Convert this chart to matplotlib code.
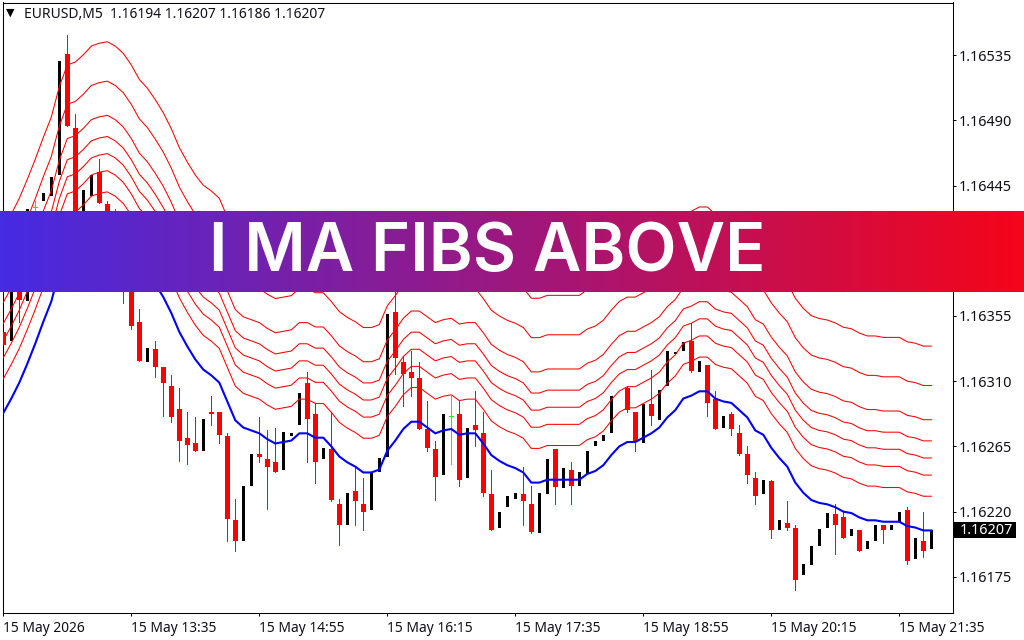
import numpy as np
import matplotlib
matplotlib.use("Agg")
import matplotlib.pyplot as plt
from matplotlib.colors import LinearSegmentedColormap

nan = float("nan")
symbol = "EURUSD,M5"
banner_title = "I MA FIBS ABOVE"
x_tick_index = [0, 16, 32, 48, 64, 80, 96, 112]
x_tick_labels = ["15 May 2026", "15 May 13:35", "15 May 14:55", "15 May 16:15",
                 "15 May 17:35", "15 May 18:55", "15 May 20:15", "15 May 21:35"]
y_tick_points = [16535, 16490, 16445, 16400, 16355, 16310, 16265, 16220, 16175]
fib_ratios = [0.236, 0.382, 0.5, 0.618, 0.764, 1.0, 1.272]
fib_scale_points = 100

# prices in points: 16207 means 1.16207
opens = [16344,16338,16385,16365,16430,16434,16438,16452,16536,16485,
         16407,16438,16454,16432,16417,16403,16376,16351,16323,16332,
         16320,16307,16291,16271,16267,16262,16289,16289,16272,16214,
         16200,16238,16260,16256,16254,16249,16272,16280,16309,16287,
         16256,16263,16225,16211,16234,16225,16221,16247,16258,16358,
         16323,16316,16312,16277,16263,16245,16286,16287,16243,16280,
         16274,16232,16209,16223,16229,16232,16225,16205,16232,16263,
         16236,16249,16238,16246,16265,16269,16274,nan,16305,16289,
         16267,16294,16283,16307,16329,16331,16338,16316,16321,16298,
         16278,16287,16274,16260,16243,16232,16241,16207,16212,16209,
         16176,16183,16196,16209,16218,16216,16203,16207,16194,16200,
         16211,16207,16213,16221,16187,16200,16194]
closes = [16335,16387,16366,16429,16430,16440,16451,16531,16486,16404,
          16442,16452,16433,16418,16404,16376,16348,16324,16333,16320,
          16309,16285,16269,16266,16262,16284,16287,16273,16215,16200,
          16238,16260,16258,16251,16247,16275,16274,16302,16284,16254,
          16264,16228,16211,16233,16227,16220,16247,16257,16356,16326,
          16315,16312,16277,16264,16244,16287,16286,16242,16278,16276,
          16233,16207,16220,16231,16233,16227,16206,16233,16256,16237,
          16250,16238,16247,16262,16269,16273,16300,nan,16290,16269,
          16294,16286,16304,16331,16330,16337,16317,16324,16295,16277,
          16286,16277,16260,16245,16231,16242,16207,16214,16209,16173,
          16184,16196,16208,16219,16211,16202,16208,16193,16200,16211,
          16207,16211,16220,16186,16202,16193,16207]
highs = [16354,16387,16390,16429,16434,16440,16451,16531,16549,16494,
         16442,16452,16463,16434,16429,16407,16381,16360,16333,16338,
         16320,16314,16305,16289,16285,16284,16300,16289,16274,16229,
         16238,16260,16285,16276,16278,16275,16274,16302,16316,16294,
         16264,16289,16229,16233,16251,16243,16247,16257,16356,16376,
         16327,16331,16323,16296,16269,16287,16300,16296,16278,16303,
         16289,16249,16220,16231,16233,16251,16238,16233,16256,16263,
         16250,16254,16247,16262,16269,16273,16300,nan,16307,16289,
         16294,16318,16304,16331,16330,16337,16350,16324,16321,16303,
         16286,16289,16280,16265,16247,16242,16242,16214,16227,16211,
         16184,16196,16208,16219,16225,16220,16208,16207,16200,16211,
         16211,16211,16220,16223,16202,16220,16207]
lows = [16332,16338,16351,16365,16425,16434,16438,16452,16486,16404,
        16407,16438,16433,16418,16404,16364,16346,16324,16323,16313,
        16286,16282,16255,16253,16262,16262,16280,16267,16200,16193,
        16200,16238,16254,16222,16247,16249,16272,16280,16254,16240,
        16256,16227,16197,16211,16211,16207,16221,16247,16258,16315,
        16293,16300,16277,16262,16228,16245,16253,16238,16243,16265,
        16231,16207,16209,16223,16229,16211,16205,16205,16232,16225,
        16236,16225,16238,16246,16265,16269,16274,nan,16289,16262,
        16267,16280,16283,16307,16329,16331,16316,16316,16286,16277,
        16278,16273,16259,16240,16225,16232,16202,16207,16207,16166,
        16176,16183,16196,16209,16191,16202,16203,16193,16194,16200,
        16198,16207,16213,16184,16187,16189,16186]
moving_average = [16288,16298,16309,16322,16336,16351,16365,16386,16401,16403,
                  16408,16414,16416,16417,16414,16409,16401,16391,16385,16377,
                  16368,16357,16344,16334,16325,16318,16314,16309,16296,16283,
                  16278,16276,16274,16270,16267,16268,16269,16274,16274,16271,
                  16271,16265,16258,16254,16251,16247,16247,16249,16262,16269,
                  16277,16282,16282,16278,16274,16276,16277,16273,16274,16274,
                  16267,16259,16255,16252,16250,16247,16240,16240,16242,16242,
                  16242,16242,16242,16246,16248,16252,16259,16265,16268,16268,
                  16271,16274,16278,16285,16290,16298,16300,16303,16303,16298,
                  16296,16295,16290,16285,16276,16273,16264,16257,16251,16240,
                  16233,16228,16226,16225,16223,16220,16219,16216,16214,16214,
                  16213,16213,16213,16210,16209,16207,16207]

RED = "#ff0000"; BLUE = "#0000ff"; BLACK = "#000000"; LIME = "#00ff00"
TXT = "#101018"
FONT = "Noto Sans"
W, H = 1024, 640
fig = plt.figure(figsize=(W/100, H/100), dpi=100, facecolor="white")
L, R, T, B = 2.5, 952.5, 2.5, 613.0
ax = fig.add_axes([L/W, 1-B/H, (R-L)/W, (B-T)/H])
ax.set_facecolor("white")
ax.set_xlim((L-3.3)/8, (R-3.3)/8)
ax.set_ylim(16573-0.69*B, 16573-0.69*T)

o = np.array(opens); c = np.array(closes); hi = np.array(highs); lo = np.array(lows)
idx = np.arange(len(o))
down = c < o; up = c > o; flat = c == o

ax.vlines(idx[down], lo[down], hi[down], color=RED, lw=0.7, antialiased=False, zorder=2)
ax.bar(idx[down], (o-c)[down], bottom=c[down], width=5/8, color=RED, lw=0, antialiased=False, zorder=3)
ax.bar(idx[up], (c-o)[up], bottom=o[up], width=3/8, color=BLACK, lw=0, antialiased=False, zorder=3)
ax.vlines(idx[flat], lo[flat], hi[flat], color=LIME, lw=0.7, antialiased=False, zorder=3)
ax.hlines(o[flat], idx[flat]-2/8, idx[flat]+2/8, color=LIME, lw=0.7, antialiased=False, zorder=3)

ma = np.array(moving_average, dtype=float)
for r in fib_ratios:
    ax.plot(idx, ma + r*fib_scale_points, color=RED, lw=0.75, zorder=4)
ax.plot(idx, ma, color=BLUE, lw=1.5, zorder=5)

for s in ax.spines.values():
    s.set_linewidth(0.75); s.set_color(BLACK)
ax.yaxis.tick_right()
ax.set_yticks(y_tick_points)
ax.set_yticklabels([f"1.{v}" for v in y_tick_points], fontfamily=FONT, fontsize=10.4, color=TXT)
ax.set_xticks(x_tick_index)
ax.set_xticklabels(x_tick_labels, fontfamily=FONT, fontsize=9.9, color=TXT, ha="left")
ax.tick_params(axis="both", length=2.5, width=0.75, color=BLACK)
ax.tick_params(axis="y", pad=2)
ax.tick_params(axis="x", pad=3)

# chart header
fig.text(6/W, 1-13/H, "\u25BC", fontsize=8, color=BLACK, va="center", ha="left", family="DejaVu Sans")
fig.text(24/W, 1-14/H,
         f"{symbol}  1.{opens[-1]} 1.{highs[-1]} 1.{lows[-1]} 1.{closes[-1]}",
         fontfamily=FONT, fontsize=10, color=TXT, va="center", ha="left")

# current price tag
tag = fig.add_axes([954/W, 1-538/H, 62/W, 16/H])
tag.set_facecolor(BLACK); tag.set_xticks([]); tag.set_yticks([])
for s in tag.spines.values():
    s.set_visible(False)
tag.text(0.09, 0.48, f"1.{closes[-1]}", color="white", fontfamily=FONT, fontsize=10.4,
         va="center", ha="left", transform=tag.transAxes)

# banner
band = fig.add_axes([0, 1-292.3/H, 1, 81.3/H], zorder=10)
cmap = LinearSegmentedColormap.from_list("band", ["#452be2", "#f5051a"])
band.imshow(np.linspace(0, 1, 512)[None, :], aspect="auto", cmap=cmap, extent=(0, 1, 0, 1))
band.set_axis_off()
band.text(487/W, 0.262, banner_title, color="white", fontfamily="Inter", fontweight="semibold",
          fontsize=48, ha="center", va="baseline", transform=band.transAxes)

fig.savefig("out.png", dpi=100, facecolor="white")
